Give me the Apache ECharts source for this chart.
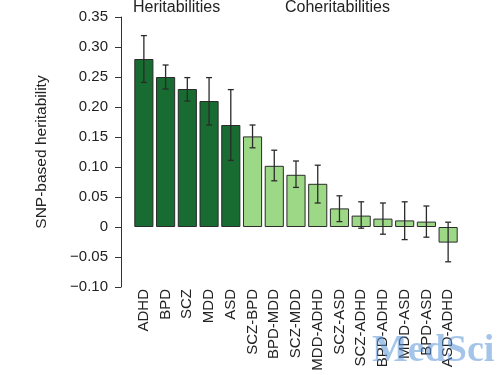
<!DOCTYPE html>
<html>
<head>
<meta charset="utf-8">
<script src="https://cdn.jsdelivr.net/npm/echarts@6/dist/echarts.min.js"></script>
<style>
  html, body { margin: 0; padding: 0; background: #fff; }
  #main { width: 500px; height: 375px; }
</style>
</head>
<body>
<div id="main"></div>
<script>
// 类别与数值
var categories = ['ADHD','BPD','SCZ','MDD','ASD','SCZ-BPD','BPD-MDD','SCZ-MDD','MDD-ADHD','SCZ-ASD','SCZ-ADHD','BPD-ADHD','MDD-ASD','BPD-ASD','ASD-ADHD'];
var values   = [0.28, 0.25, 0.23, 0.21, 0.17, 0.151, 0.102, 0.087, 0.072, 0.031, 0.019, 0.014, 0.011, 0.009, -0.026];
var errLow   = [0.241, 0.23, 0.21, 0.17, 0.111, 0.132, 0.077, 0.066, 0.040, 0.009, -0.002, -0.012, -0.021, -0.017, -0.058];
var errHigh  = [0.319, 0.27, 0.249, 0.249, 0.229, 0.17, 0.128, 0.11, 0.103, 0.052, 0.042, 0.040, 0.042, 0.035, 0.008];
var groupOf  = ['h','h','h','h','h','c','c','c','c','c','c','c','c','c','c'];
var yTicks   = { min: -0.10, max: 0.35, step: 0.05 };

var darkGreen = '#186b31';
var lightGreen = '#9dd886';
var font = '"Liberation Sans", Arial, sans-serif';

var barData = values.map(function(v, i){
    return {
        value: v,
        itemStyle: { color: groupOf[i] === 'h' ? darkGreen : lightGreen }
    };
});
var errData = categories.map(function(c, i){ return [i, errLow[i], errHigh[i]]; });

var myChart = echarts.init(document.getElementById('main'));
var option = {
    animation: false,
    grid: {
        left: 133,
        right: 41,
        top: 17,
        bottom: 88
    },
    xAxis: {
        type: 'category',
        data: categories,
        axisLine: { show: false, onZero: false },
        axisTick: { show: false },
        axisLabel: {
            rotate: 90,
            margin: 2,
            interval: 0,
            fontFamily: font,
            fontSize: 15,
            color: '#222'
        }
    },
    yAxis: {
        type: 'value',
        min: yTicks.min,
        max: yTicks.max,
        interval: yTicks.step,
        offset: 12,
        name: 'SNP-based heritability',
        nameLocation: 'middle',
        nameGap: 71,
        nameTextStyle: { fontFamily: font, fontSize: 15.5, color: '#222' },
        splitLine: { show: false },
        axisLine: { show: true, lineStyle: { color: '#333', width: 1 } },
        axisTick: { show: true, length: 6, lineStyle: { color: '#333' } },
        axisLabel: {
            fontFamily: font,
            fontSize: 15,
            color: '#222',
            margin: 13,
            formatter: function(v){
                if (Math.abs(v) < 1e-9) return '0';
                var s = Math.abs(v).toFixed(2);
                return v < 0 ? '\u2212' + s : s;
            }
        }
    },
    series: [
        {
            name: 'heritability',
            type: 'bar',
            data: barData,
            barCategoryGap: '12%',
            itemStyle: { borderColor: '#2b2b2b', borderWidth: 1 }
        },
        {
            name: 'error',
            type: 'custom',
            data: errData,
            z: 10,
            renderItem: function(params, api){
                var x = api.value(0);
                var lo = api.coord([x, api.value(1)]);
                var hi = api.coord([x, api.value(2)]);
                var cap = 3;
                var style = { stroke: '#2b2b2b', lineWidth: 1.3 };
                return {
                    type: 'group',
                    children: [
                        { type: 'line', shape: { x1: hi[0], y1: hi[1], x2: lo[0], y2: lo[1] }, style: style },
                        { type: 'line', shape: { x1: hi[0] - cap, y1: hi[1], x2: hi[0] + cap, y2: hi[1] }, style: style },
                        { type: 'line', shape: { x1: lo[0] - cap, y1: lo[1], x2: lo[0] + cap, y2: lo[1] }, style: style }
                    ]
                };
            }
        }
    ],
    graphic: [
        {
            type: 'text', left: 133, top: 0,
            style: { text: 'Heritabilities', font: '16px ' + font, fill: '#222' }
        },
        {
            type: 'text', left: 285, top: 0,
            style: { text: 'Coheritabilities', font: '16px ' + font, fill: '#222' }
        },
        {
            type: 'text', left: 372, top: 332, z: 100,
            style: { text: 'MedSci', font: 'bold 38px "Liberation Serif", serif', fill: 'rgba(90,150,215,0.55)' }
        }
    ]
};
myChart.setOption(option);
</script>
</body>
</html>
